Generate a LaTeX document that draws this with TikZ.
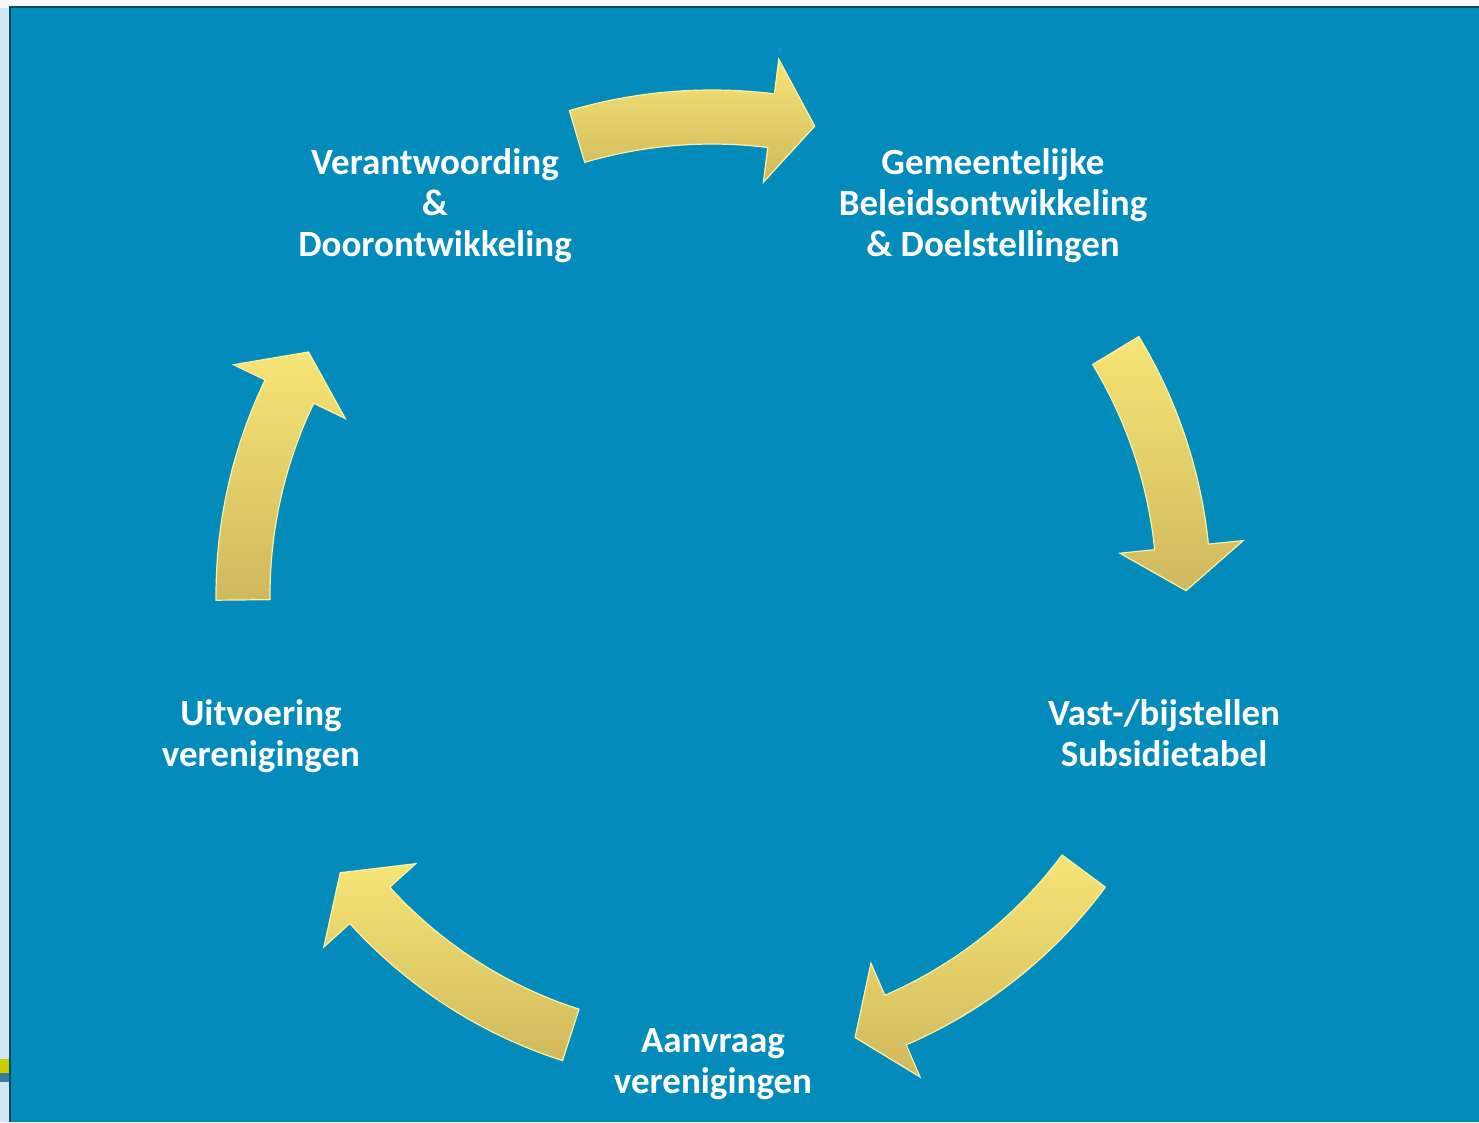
\documentclass[tikz,border=0pt]{standalone}
\usepackage{fontspec}
\setmainfont{Carlito}
\usetikzlibrary{calc}
\definecolor{bg}{RGB}{3,139,187}
\definecolor{edgeline}{RGB}{12,75,92}
\definecolor{strip}{RGB}{208,232,243}
\definecolor{paper}{RGB}{248,249,253}
\definecolor{ylight}{RGB}{246,229,118}
\definecolor{ydark}{RGB}{208,184,92}
\definecolor{yrim}{RGB}{252,242,165}
\definecolor{tabyellow}{RGB}{204,204,0}
\definecolor{tabgrey}{RGB}{58,127,154}
\tikzset{
  lbl/.style={text=white, font=\bfseries\fontsize{37}{41}\selectfont, align=center, inner sep=0pt},
  cyc/.style={shading=axis, top color=ylight, bottom color=ydark, draw=yrim, line width=1.2pt, line join=miter},
}
\newcommand\cycarrow[3]{%
  \path[cyc] ($(C)+({#2}:{#1+27})$) arc[start angle={#2}, end angle={#3}, radius={#1+27}]
    -- ($(C)+({#3}:{#1+62})$) -- ($(C)+({#3}:{#1})+({#3-90}:44)$)
    -- ($(C)+({#3}:{#1-62})$) -- ($(C)+({#3}:{#1-27})$)
    arc[start angle={#3}, end angle={#2}, radius={#1-27}] -- cycle;}
\begin{document}
\begin{tikzpicture}[x=1pt,y=1pt]
\useasboundingbox (0,0) rectangle (1479,-1122);
\fill[paper] (0,0) rectangle (1479,-1122);
\fill[strip] (0,-8) rectangle (10,-1122);
\fill[tabyellow] (0,-1059) rectangle (9,-1073);
\fill[tabgrey] (0,-1073) rectangle (9,-1082);
\fill[edgeline] (9,-6) rectangle (1479,-1122);
\fill[bg] (11,-8) rectangle (1479,-1122);
\coordinate (C) at (712,-595);
% arrows of the cycle
\cycarrow{478}{106.4}{82.9}
\cycarrow{472}{31.2}{5.85}
\cycarrow{463}{-36.6}{-66.65}
\cycarrow{462}{252.2}{222.2}
\cycarrow{469}{180.6}{154.3}
% labels
\node[lbl] (verant) at (435,-206) {Verantwoording\\\&\\Doorontwikkeling};
\node[lbl] (gem) at (993,-206) {Gemeentelijke\\Beleidsontwikkeling\\\& Doelstellingen};
\node[lbl] (vast) at (1164,-733) {Vast-/bijstellen\\Subsidietabel};
\node[lbl] (aanvr) at (713,-1064) {Aanvraag\\verenigingen};
\node[lbl] (uitv) at (261,-736) {Uitvoering\\verenigingen};
\end{tikzpicture}
\end{document}
